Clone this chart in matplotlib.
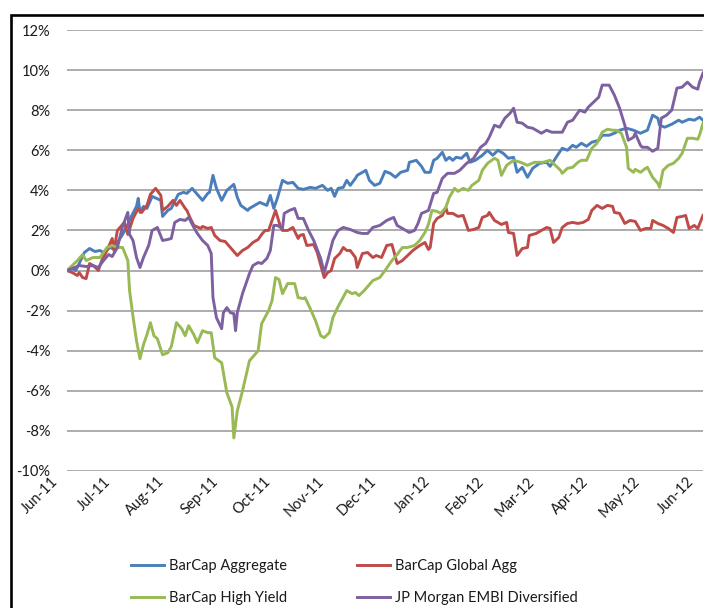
import matplotlib

matplotlib.use("Agg")
import matplotlib.dates as mdates
import matplotlib.patches as mpatches
import matplotlib.pyplot as plt
import matplotlib.transforms as mtransforms
import pandas as pd

START = "2011-06-01"
END = "2012-06-01"

SERIES = [
    "BarCap Aggregate",
    "BarCap Global Agg",
    "BarCap High Yield",
    "JP Morgan EMBI Diversified",
]

COLORS = {
    "BarCap Aggregate": "#4a7ebb",
    "BarCap Global Agg": "#be4b48",
    "BarCap High Yield": "#98b954",
    "JP Morgan EMBI Diversified": "#7d60a0",
}

# days since 2011-06-01, cumulative return in %
AGG_DAYS = [0, 3, 5, 7, 10, 13, 16, 19, 21, 23, 25, 26, 29, 32, 35, 37, 40, 41, 42, 44, 46, 49, 54, 55, 58, 60,
            64, 67, 69, 72, 75, 78, 81, 82, 84, 86, 89, 92, 96, 98, 100, 104, 105, 108, 111, 115, 117, 119, 121,
            124, 127, 130, 133, 136, 140, 143, 147, 150, 152, 154, 156, 159, 161, 163, 166, 167, 170, 172, 174,
            177, 180, 183, 186, 189, 192, 196, 197, 201, 204, 206, 209, 211, 213, 216, 218, 220, 222, 224, 227,
            230, 232, 235, 239, 242, 245, 248, 251, 254, 257, 259, 262, 265, 268, 272, 276, 278, 280, 283, 285,
            288, 291, 293, 296, 299, 302, 306, 308, 312, 315, 318, 322, 326, 330, 334, 337, 340, 341, 344, 348,
            352, 354, 358, 361, 364, 366]
AGG_VALUES = [0.0, 0.1, 0.0, 0.35, 0.9, 1.1, 0.95, 1.0, 0.9, 1.05, 1.15, 1.1, 1.4, 1.8, 2.3, 2.7, 3.2, 3.6, 2.9,
              3.2, 3.1, 3.7, 3.5, 2.7, 3.0, 3.1, 3.8, 3.9, 3.85, 4.1, 3.8, 3.5, 3.85, 3.9, 4.75, 4.1, 3.5, 4.0,
              4.3, 3.65, 3.25, 3.0, 3.1, 3.25, 3.4, 3.25, 3.75, 3.1, 3.6, 4.5, 4.35, 4.4, 4.1, 4.05, 4.15, 4.1,
              4.25, 4.0, 4.1, 3.7, 4.1, 4.15, 4.5, 4.25, 4.6, 4.75, 4.9, 5.0, 4.5, 4.25, 4.35, 4.95, 4.85, 4.65,
              4.9, 5.0, 5.4, 5.5, 5.2, 4.9, 4.9, 5.5, 5.6, 5.9, 5.5, 5.65, 5.5, 5.65, 5.6, 5.85, 5.4, 5.5, 5.75,
              6.0, 5.75, 6.0, 5.85, 5.6, 5.65, 4.9, 5.15, 4.65, 5.1, 5.35, 5.4, 5.2, 5.45, 5.85, 6.1, 6.0, 6.25,
              6.15, 6.35, 6.2, 6.4, 6.5, 6.75, 6.75, 6.85, 7.0, 7.1, 7.0, 6.85, 7.0, 7.75, 7.6, 7.25, 7.15, 7.3,
              7.5, 7.4, 7.55, 7.5, 7.65, 7.5]

GLOBAL_DAYS = [0, 3, 6, 7, 9, 11, 13, 15, 17, 18, 20, 23, 26, 27, 29, 30, 33, 35, 38, 41, 43, 46, 48, 51, 54,
               55, 58, 61, 63, 65, 68, 69, 71, 73, 77, 78, 81, 83, 85, 88, 91, 94, 98, 101, 104, 107, 110, 112,
               114, 116, 118, 120, 123, 124, 127, 130, 133, 134, 136, 138, 142, 144, 148, 150, 152, 154, 157,
               159, 161, 163, 166, 167, 170, 173, 176, 178, 181, 184, 187, 190, 193, 196, 199, 203, 206, 208,
               209, 211, 213, 216, 218, 219, 222, 225, 228, 231, 234, 237, 239, 242, 243, 246, 250, 253, 254,
               257, 259, 262, 265, 266, 270, 273, 276, 278, 280, 283, 285, 288, 291, 294, 297, 300, 302, 305,
               308, 311, 314, 315, 318, 321, 324, 327, 330, 333, 336, 337, 340, 343, 346, 349, 351, 354, 356,
               358, 361, 363, 366]
GLOBAL_VALUES = [0.0, -0.1, -0.25, -0.1, -0.35, -0.4, 0.35, 0.25, 0.1, 0.0, 0.5, 1.0, 1.6, 1.0, 2.0, 2.1, 2.4,
                 1.8, 2.6, 3.1, 2.9, 3.25, 3.8, 4.1, 3.75, 3.0, 3.2, 3.5, 3.25, 3.5, 3.1, 3.0, 2.6, 2.25, 2.1,
                 2.2, 2.1, 2.15, 1.75, 1.5, 1.45, 1.15, 0.75, 1.0, 1.15, 1.4, 1.55, 1.8, 2.0, 2.0, 2.5, 3.0,
                 2.15, 2.0, 2.0, 2.15, 1.6, 1.75, 1.8, 1.25, 1.3, 0.9, -0.35, -0.1, 0.0, 0.6, 0.85, 1.15, 1.0,
                 1.0, 0.65, 0.15, 0.85, 0.9, 0.65, 0.75, 0.65, 1.25, 1.3, 0.35, 0.5, 0.75, 1.0, 1.25, 1.4, 1.05,
                 1.15, 2.35, 2.6, 2.75, 3.15, 2.85, 2.85, 2.7, 2.75, 2.0, 2.05, 2.15, 2.65, 2.75, 2.9, 2.5, 2.3,
                 2.4, 1.9, 1.85, 0.75, 1.1, 1.15, 1.75, 1.85, 2.0, 2.15, 2.1, 1.4, 1.65, 2.15, 2.35, 2.4, 2.35,
                 2.4, 2.55, 3.0, 3.25, 3.1, 3.25, 3.2, 2.9, 2.85, 2.35, 2.5, 2.45, 2.0, 2.1, 2.1, 2.5, 2.35,
                 2.25, 2.1, 1.9, 2.65, 2.7, 2.75, 2.1, 2.25, 2.1, 2.75]

HY_DAYS = [0, 3, 6, 9, 11, 15, 19, 21, 23, 26, 29, 32, 35, 36, 38, 40, 42, 44, 46, 48, 50, 52, 55, 58, 60, 63,
           66, 68, 70, 73, 75, 78, 81, 83, 85, 89, 92, 95, 96, 98, 101, 105, 110, 112, 116, 118, 120, 122, 124,
           127, 131, 133, 136, 137, 140, 143, 146, 148, 151, 153, 156, 161, 164, 166, 168, 171, 176, 180, 183,
           187, 190, 193, 196, 200, 203, 206, 208, 210, 213, 215, 218, 220, 223, 225, 228, 231, 233, 237, 239,
           242, 246, 248, 250, 253, 257, 261, 265, 269, 274, 278, 281, 284, 285, 288, 291, 294, 296, 299, 302,
           305, 308, 311, 314, 316, 319, 322, 323, 326, 327, 330, 333, 334, 337, 340, 341, 343, 346, 349, 352,
           354, 357, 360, 363, 364, 366]
HY_VALUES = [0.0, 0.25, 0.5, 0.8, 0.5, 0.65, 0.65, 0.9, 1.15, 1.25, 1.15, 1.15, 0.5, -1.0, -2.3, -3.5, -4.4,
             -3.7, -3.2, -2.6, -3.25, -3.4, -4.2, -4.1, -3.8, -2.6, -2.9, -3.25, -2.75, -3.2, -3.6, -3.0, -3.1,
             -3.1, -4.35, -4.6, -6.1, -6.8, -8.35, -7.0, -6.0, -4.5, -4.0, -2.65, -2.0, -1.5, -0.35, -0.45,
             -1.15, -0.65, -0.65, -1.35, -1.4, -1.35, -1.9, -2.5, -3.25, -3.35, -3.1, -2.35, -1.8, -1.0, -1.15,
             -1.1, -1.25, -1.0, -0.5, -0.35, 0.0, 0.5, 0.8, 1.15, 1.15, 1.25, 1.5, 1.9, 2.3, 3.0, 2.95, 2.85,
             3.15, 3.65, 4.1, 3.95, 4.1, 4.0, 4.25, 4.5, 5.0, 5.35, 5.6, 5.5, 4.75, 5.25, 5.5, 5.4, 5.25, 5.4,
             5.4, 5.5, 5.25, 5.0, 4.85, 5.1, 5.15, 5.4, 5.5, 5.5, 6.1, 6.35, 6.9, 7.05, 7.0, 7.0, 6.85, 6.15,
             5.1, 4.9, 5.05, 4.9, 5.1, 5.15, 4.65, 4.35, 4.15, 5.0, 5.25, 5.35, 5.6, 5.85, 6.6, 6.6, 6.55,
             6.75, 7.35]

EMBI_DAYS = [0, 3, 7, 11, 15, 18, 21, 24, 26, 29, 32, 35, 36, 38, 40, 42, 44, 47, 49, 52, 55, 58, 60, 62, 65,
             68, 70, 73, 75, 78, 81, 83, 84, 86, 89, 90, 92, 94, 96, 97, 98, 101, 105, 107, 110, 112, 115, 117,
             119, 121, 124, 125, 128, 131, 133, 136, 139, 142, 146, 148, 150, 153, 156, 159, 163, 167, 170, 173,
             176, 180, 184, 188, 190, 193, 197, 200, 202, 204, 208, 211, 213, 216, 219, 223, 226, 230, 234, 238,
             241, 243, 246, 249, 252, 255, 257, 259, 262, 265, 268, 270, 273, 276, 279, 283, 285, 288, 291, 293,
             295, 298, 300, 303, 306, 308, 312, 315, 318, 321, 323, 326, 327, 330, 331, 334, 337, 340, 342, 345,
             348, 351, 354, 357, 360, 363, 364, 366]
EMBI_VALUES = [0.0, 0.1, 0.25, 0.2, 0.25, 0.15, 0.5, 0.8, 0.7, 1.15, 2.2, 2.9, 1.8, 1.5, 0.65, 0.15, 0.65, 1.25,
               2.0, 2.15, 1.5, 1.55, 1.6, 2.4, 2.55, 2.5, 2.65, 2.15, 1.85, 1.5, 1.25, 0.85, -1.35, -2.35, -2.9,
               -2.1, -1.85, -2.1, -2.15, -3.0, -2.1, -1.15, -0.15, 0.25, 0.4, 0.35, 0.6, 1.0, 2.25, 2.25, 2.1,
               2.85, 3.0, 3.1, 2.6, 2.6, 2.0, 1.5, 0.6, -0.1, 0.5, 1.5, 2.0, 2.15, 2.05, 1.9, 1.85, 1.85, 2.15,
               2.25, 2.5, 2.65, 2.25, 2.1, 1.9, 2.0, 2.35, 2.85, 3.0, 3.85, 3.9, 4.6, 4.85, 4.85, 5.0, 5.35, 5.6,
               6.15, 6.35, 6.65, 7.25, 7.15, 7.6, 7.85, 8.1, 7.4, 7.35, 7.15, 7.1, 7.0, 6.85, 7.0, 6.9, 6.9, 6.9,
               7.4, 7.5, 7.75, 8.0, 7.9, 8.15, 8.4, 8.65, 9.25, 9.25, 8.75, 8.1, 7.25, 6.5, 6.65, 6.85, 6.25,
               6.15, 6.15, 5.95, 6.1, 7.6, 7.75, 8.0, 9.1, 9.15, 9.4, 9.15, 9.05, 9.4, 9.85]

Y_TICKS = [-10, -8, -6, -4, -2, 0, 2, 4, 6, 8, 10, 12]

FONT = ["Lato", "DejaVu Sans"]
TEXT_COLOR = "#1a1a1a"
GRID_COLOR = "#a6a6a6"


def to_dates(days):
    return pd.Timestamp(START) + pd.to_timedelta(days, unit="D")


def main():
    plt.rcParams["font.family"] = FONT
    series_data = {
        "BarCap Aggregate": (AGG_DAYS, AGG_VALUES),
        "BarCap Global Agg": (GLOBAL_DAYS, GLOBAL_VALUES),
        "BarCap High Yield": (HY_DAYS, HY_VALUES),
        "JP Morgan EMBI Diversified": (EMBI_DAYS, EMBI_VALUES),
    }

    fig = plt.figure(figsize=(7.04, 6.08), dpi=100)
    ax = fig.add_axes([67 / 704, 1 - 471 / 608, 636 / 704, 441 / 608])

    lines = {}
    for name in SERIES:
        days, values = series_data[name]
        (lines[name],) = ax.plot(to_dates(days), values, color=COLORS[name], linewidth=2.1, label=name,
                                 solid_joinstyle="round")

    ax.set_xlim(pd.Timestamp(START), pd.Timestamp(END))
    ax.set_ylim(Y_TICKS[0], Y_TICKS[-1])
    ax.set_yticks(Y_TICKS)
    ax.set_yticklabels([f"{tick}%" for tick in Y_TICKS])
    ax.xaxis.set_major_locator(mdates.MonthLocator())
    ax.xaxis.set_major_formatter(mdates.DateFormatter("%b-%y"))

    ax.yaxis.grid(True, color=GRID_COLOR, linewidth=1.3)
    ax.set_axisbelow(True)
    for spine in ax.spines.values():
        spine.set_visible(False)
    ax.tick_params(axis="both", length=0, labelsize=10.5, labelcolor=TEXT_COLOR)
    ax.tick_params(axis="y", pad=12)
    ax.tick_params(axis="x", pad=6)

    shift = mtransforms.ScaledTranslation(-0.11, 0, fig.dpi_scale_trans)
    for label in ax.get_xticklabels():
        label.set_rotation(45)
        label.set_rotation_mode("anchor")
        label.set_horizontalalignment("right")
        label.set_verticalalignment("center")
        label.set_transform(label.get_transform() + shift)
        label.set_clip_on(False)

    # legend fills column-wise, so order the handles to read row by row
    order = [SERIES[0], SERIES[2], SERIES[1], SERIES[3]]
    fig.legend(
        [lines[name] for name in order],
        order,
        loc="center",
        bbox_to_anchor=(354 / 704, 1 - 582 / 608),
        ncol=2,
        frameon=False,
        fontsize=10.5,
        handlelength=2.3,
        handletextpad=0.3,
        columnspacing=4.8,
        labelspacing=1.2,
        labelcolor=TEXT_COLOR,
    )

    border = mpatches.Rectangle(
        (10.5 / 704, -0.1), 2, 1.1 - 15 / 608,
        transform=fig.transFigure, fill=False, edgecolor="black", linewidth=1.9,
    )
    fig.patches.append(border)

    fig.savefig("out.png", dpi=100)
    plt.close(fig)


if __name__ == "__main__":
    main()
